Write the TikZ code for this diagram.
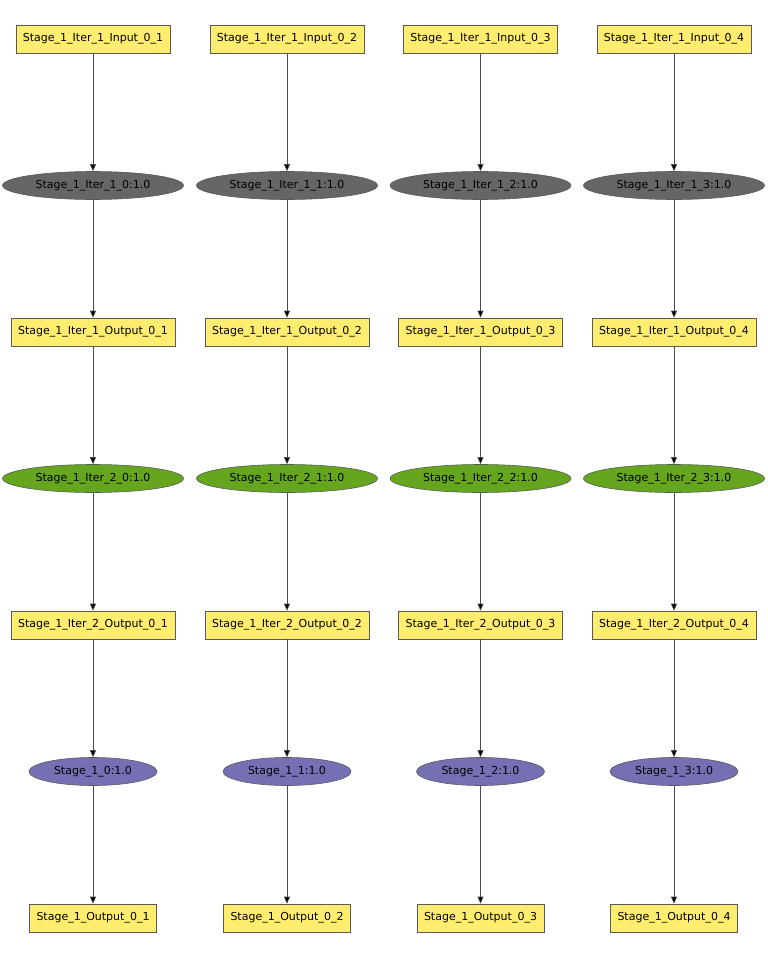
\documentclass[tikz,border=0pt]{standalone}
\usepackage{fontspec}
\setmainfont{DejaVu Sans}
\usetikzlibrary{arrows.meta,shapes.geometric}
\definecolor{boxyellow}{HTML}{FFED6F}
\definecolor{dgray}{HTML}{666666}
\definecolor{dgreen}{HTML}{66A61E}
\definecolor{dpurple}{HTML}{7570B3}
\tikzset{
  databox/.style={draw=black!65, line width=0.6pt, fill=boxyellow, rectangle, inner xsep=7pt, inner ysep=0pt, minimum height=28pt, font=\fontsize{11pt}{13pt}\selectfont},
  iterell/.style={draw=black!65, line width=0.6pt, ellipse, inner sep=0pt, minimum width=181pt, minimum height=28pt, font=\fontsize{11pt}{13pt}\selectfont},
  stageell/.style={draw=black!65, line width=0.6pt, ellipse, inner sep=0pt, minimum width=128pt, minimum height=28pt, font=\fontsize{11pt}{13pt}\selectfont},
  flow/.style={draw=black!70, line width=0.6pt, -{Triangle[length=7pt,width=6pt,fill=black]}}
}
\begin{document}
\begin{tikzpicture}[x=1pt,y=-1pt]
\useasboundingbox (0,0) rectangle (768,958);
\foreach \c/\x in {1/93,2/287,3/480.5,4/674}{
  \pgfmathtruncatemacro{\k}{\c-1}
  \node[databox] (in\c) at (\x,39) {Stage\_1\_Iter\_1\_Input\_0\_\c};
  \node[iterell, fill=dgray] (ea\c) at (\x,185.5) {Stage\_1\_Iter\_1\_\k:1.0};
  \node[databox] (oa\c) at (\x,332) {Stage\_1\_Iter\_1\_Output\_0\_\c};
  \node[iterell, fill=dgreen] (eb\c) at (\x,478.5) {Stage\_1\_Iter\_2\_\k:1.0};
  \node[databox] (ob\c) at (\x,625) {Stage\_1\_Iter\_2\_Output\_0\_\c};
  \node[stageell, fill=dpurple] (ec\c) at (\x,771.5) {Stage\_1\_\k:1.0};
  \node[databox] (out\c) at (\x,918) {Stage\_1\_Output\_0\_\c};
  \draw[flow] (in\c) -- (ea\c);
  \draw[flow] (ea\c) -- (oa\c);
  \draw[flow] (oa\c) -- (eb\c);
  \draw[flow] (eb\c) -- (ob\c);
  \draw[flow] (ob\c) -- (ec\c);
  \draw[flow] (ec\c) -- (out\c);
}
\end{tikzpicture}
\end{document}
